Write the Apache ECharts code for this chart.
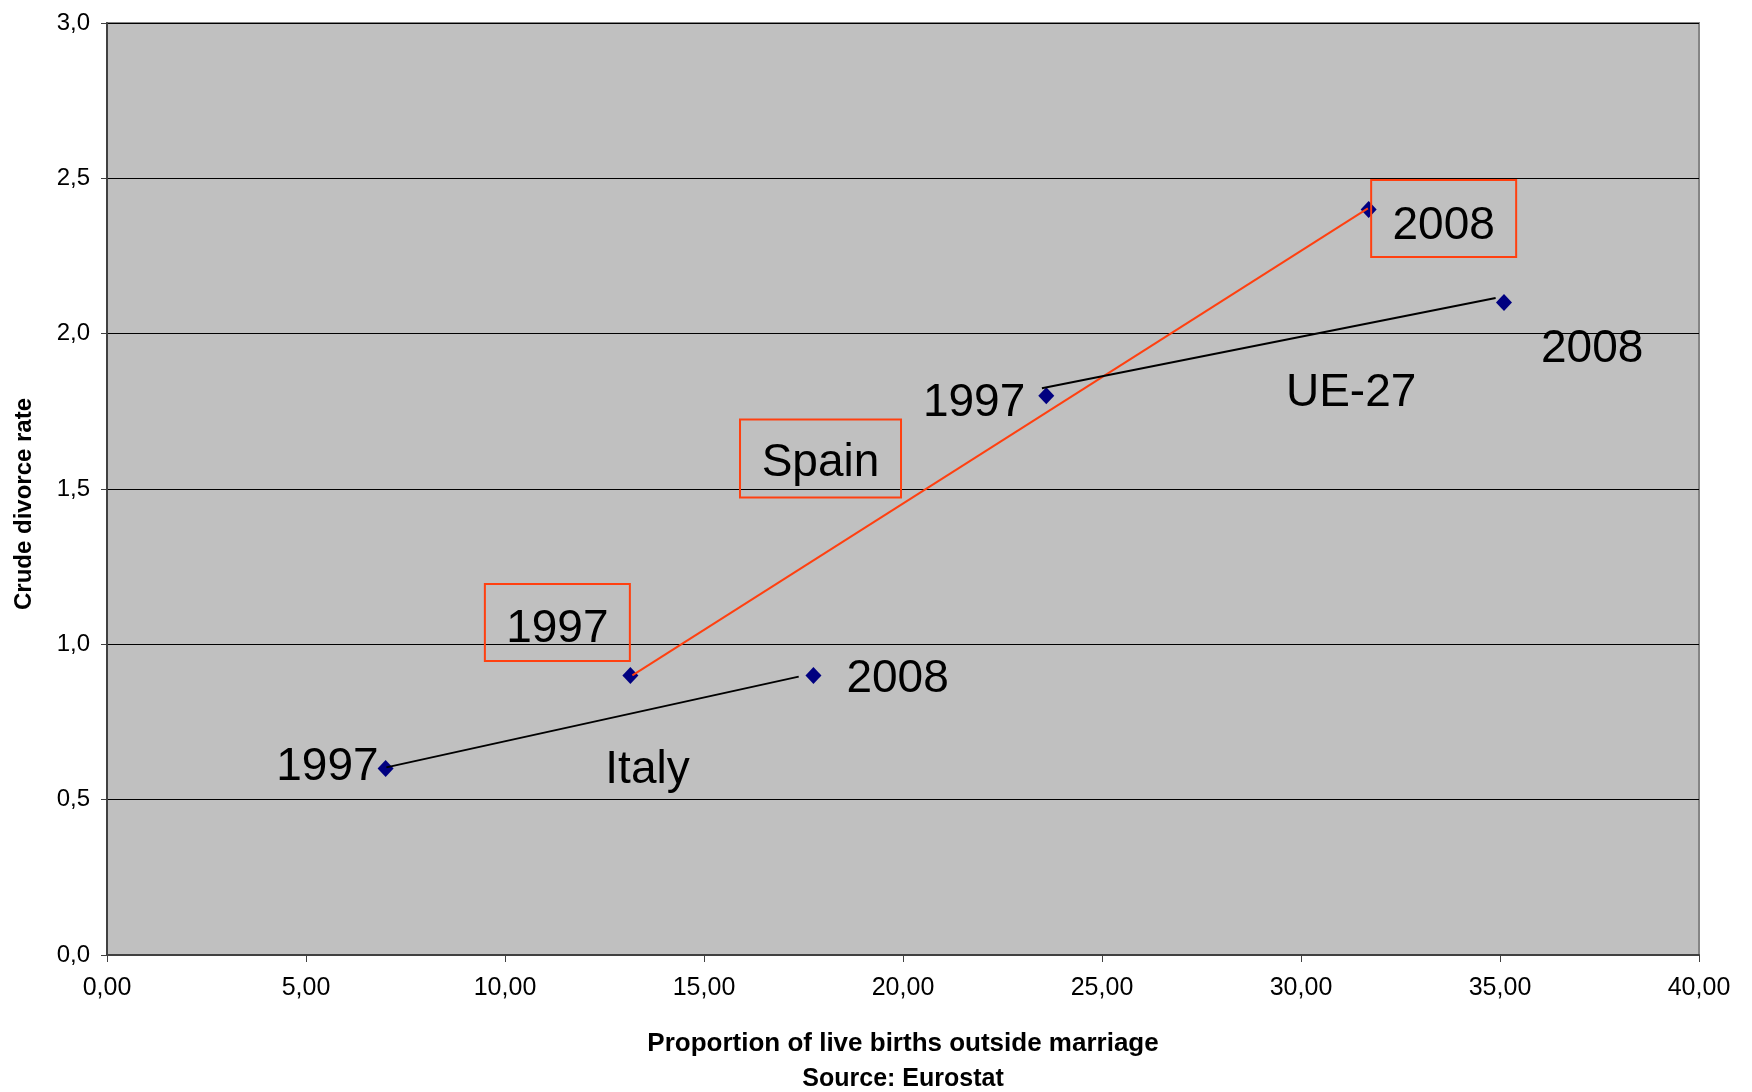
<!DOCTYPE html>
<html><head><meta charset="utf-8">
<script src="https://cdn.jsdelivr.net/npm/echarts@6/dist/echarts.min.js"></script>
<style>html,body{margin:0;padding:0;background:#fff}#c{width:1752px;height:1092px}</style>
</head><body><div id="c"></div>
<script>
// ---- data ----
const countries = ['Italy', 'Spain', 'UE-27'];
const years = ['1997', '2008'];
const births1997 = [7.0, 13.15, 23.6];     // x: proportion of live births outside marriage
const births2008 = [17.75, 31.7, 35.1];
const divorce1997 = [0.6, 0.9, 1.8];       // y: crude divorce rate
const divorce2008 = [0.9, 2.4, 2.1];
// hand-drawn connector segments (data units)
const connectorFrom = [[7.02, 0.604], [13.2, 0.9], [23.49, 1.824]];
const connectorTo = [[17.38, 0.896], [31.68, 2.403], [34.89, 2.115]];
const xTicks = [0, 5, 10, 15, 20, 25, 30, 35, 40];
const yTicks = [0, 0.5, 1, 1.5, 2, 2.5, 3];
const xTitle = 'Proportion of live births outside marriage';
const sourceNote = 'Source: Eurostat';
const yTitle = 'Crude divorce rate';

// ---- chart ----
const FONT = '"Liberation Sans", Arial, sans-serif';
const RED = '#FF4010';
const chart = echarts.init(document.getElementById('c'), null, {renderer: 'canvas'});

const connectorColors = ['#000000', RED, '#000000'];
const series = countries.map((c, i) => ({
  type: 'line', name: c, data: [connectorFrom[i], connectorTo[i]],
  symbol: 'none', silent: true, z: 4,
  lineStyle: {color: connectorColors[i], width: 2}
}));
const points = [];
countries.forEach((c, i) => {
  points.push([births1997[i], divorce1997[i]]);
  points.push([births2008[i], divorce2008[i]]);
});
series.push({
  type: 'scatter', data: points, symbol: 'diamond', symbolSize: [16, 17],
  itemStyle: {color: '#000080', opacity: 1}, z: 3, silent: true
});

const comma = (v, d) => v.toFixed(d).replace('.', ',');

const option = {
  animation: false,
  backgroundColor: '#ffffff',
  grid: {left: 107, top: 23, right: 53, bottom: 137, show: true,
         backgroundColor: '#C0C0C0', borderColor: '#858585', borderWidth: 2},
  xAxis: {
    type: 'value', min: xTicks[0], max: xTicks[xTicks.length - 1], interval: xTicks[1] - xTicks[0],
    axisLine: {show: true, onZero: false, lineStyle: {color: '#404040', width: 2}},
    axisTick: {show: true, length: 7, lineStyle: {color: '#404040', width: 1}},
    splitLine: {show: false},
    axisLabel: {formatter: v => comma(v, 2), fontFamily: FONT, fontSize: 25, color: '#000', margin: 21}
  },
  yAxis: {
    type: 'value', min: yTicks[0], max: yTicks[yTicks.length - 1], interval: yTicks[1] - yTicks[0],
    axisLine: {show: true, onZero: false, lineStyle: {color: '#404040', width: 2}},
    axisTick: {show: true, length: 6, lineStyle: {color: '#404040', width: 1}},
    splitLine: {show: true, lineStyle: {color: '#000000', width: 1}},
    axisLabel: {formatter: v => comma(v, 1), fontFamily: FONT, fontSize: 24, color: '#000', margin: 17}
  },
  series: series
};
chart.setOption(option);

// ---- annotations anchored to data points (pixel offsets are styling) ----
const px = p => chart.convertToPixel({xAxisIndex: 0, yAxisIndex: 0}, p);
const mid = i => [(births1997[i] + births2008[i]) / 2, (divorce1997[i] + divorce2008[i]) / 2];
const TY = 4; // text baseline correction
const annos = [
  {p: [births1997[0], divorce1997[0]], t: years[0], dx: -7, dy: -5, align: 'right'},
  {p: [births2008[0], divorce2008[0]], t: years[1], dx: 33, dy: 0, align: 'left'},
  {p: mid(0), t: countries[0], dx: 48, dy: 44, align: 'center'},
  {p: [births1997[1], divorce1997[1]], t: years[0], dx: -73, dy: -50, align: 'center', box: [145, 77, 0, -3]},
  {p: [births2008[1], divorce2008[1]], t: years[1], dx: 75, dy: 13, align: 'center', box: [145, 77, 0, -4]},
  {p: mid(1), t: countries[1], dx: -179, dy: 17, align: 'center', box: [161, 78, 0, -1]},
  {p: [births1997[2], divorce1997[2]], t: years[0], dx: -21, dy: 4, align: 'right'},
  {p: [births2008[2], divorce2008[2]], t: years[1], dx: 37, dy: 42.5, align: 'left'},
  {p: mid(2), t: countries[2], dx: 76, dy: 40, align: 'center'}
];
const graphics = [];
annos.forEach(a => {
  const q = px(a.p);
  const x = q[0] + a.dx, y = q[1] + a.dy;
  if (a.box) {
    const [w, h, bx, by] = a.box;
    graphics.push({type: 'rect', z: 10, silent: true,
      shape: {x: x + bx - w / 2, y: y + by - h / 2, width: w, height: h},
      style: {fill: 'none', stroke: RED, lineWidth: 2}});
  }
  graphics.push({type: 'text', z: 11, silent: true, x: x, y: y + TY,
    style: {text: a.t, fontSize: 46, fontFamily: FONT, fill: '#000',
            align: a.align, textAlign: a.align, verticalAlign: 'middle', textVerticalAlign: 'middle'}});
});
// axis titles
graphics.push({type: 'text', silent: true, x: 903, y: 1044,
  style: {text: xTitle, fontSize: 26, fontWeight: 'bold', fontFamily: FONT, fill: '#000',
          align: 'center', textAlign: 'center', verticalAlign: 'middle', textVerticalAlign: 'middle'}});
graphics.push({type: 'text', silent: true, x: 903, y: 1079,
  style: {text: sourceNote, fontSize: 25, fontWeight: 'bold', fontFamily: FONT, fill: '#000',
          align: 'center', textAlign: 'center', verticalAlign: 'middle', textVerticalAlign: 'middle'}});
graphics.push({type: 'text', silent: true, x: 24, y: 504, rotation: Math.PI / 2,
  style: {text: yTitle, fontSize: 24, fontWeight: 'bold', fontFamily: FONT, fill: '#000',
          align: 'center', textAlign: 'center', verticalAlign: 'middle', textVerticalAlign: 'middle'}});
chart.setOption({graphic: {elements: graphics}});
</script></body></html>
